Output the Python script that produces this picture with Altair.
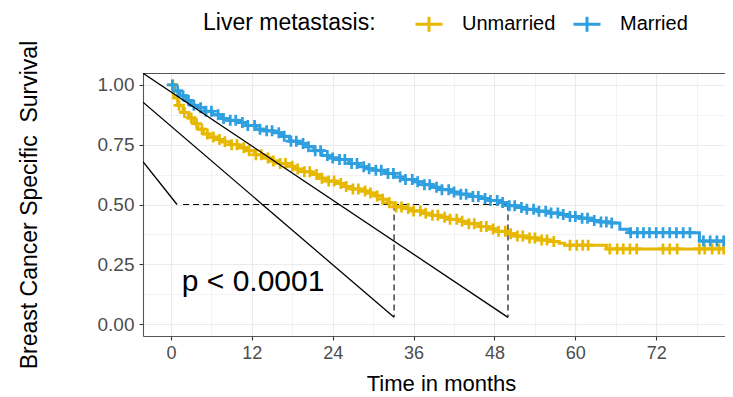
import altair as alt
import numpy as np
import pandas as pd

FONT = "Liberation Sans"

groups = ["Unmarried", "Married"]
colors = ["#E7B800", "#2E9FDF"]

# Kaplan-Meier steps (months, survival after the step)
married_t = [0, 0.5, 1.3, 2.2, 3.0, 4.0, 5.0, 6.2, 7.5, 8.6, 10.0, 11.2, 12.6, 13.8,
             15.2, 16.4, 17.6, 18.8, 20.0, 21.2, 22.4, 23.6, 25.0, 26.4, 27.8, 29.0,
             30.4, 31.8, 33.2, 34.6, 36.0, 37.4, 38.8, 40.2, 41.6, 43.0, 44.4, 45.8,
             47.2, 48.6, 50.0, 51.4, 52.8, 54.4, 56.0, 57.6, 59.0, 60.6, 62.2, 63.6,
             65.0, 66.6, 68.0, 78.4, 86.0]
married_s = [1.0, 0.975, 0.955, 0.935, 0.915, 0.905, 0.89, 0.875, 0.86, 0.852, 0.843,
             0.83, 0.815, 0.808, 0.80, 0.785, 0.765, 0.755, 0.742, 0.725, 0.705, 0.695,
             0.688, 0.672, 0.658, 0.650, 0.643, 0.630, 0.615, 0.605, 0.595, 0.583,
             0.572, 0.562, 0.552, 0.543, 0.533, 0.525, 0.517, 0.508, 0.495, 0.487,
             0.480, 0.472, 0.464, 0.458, 0.450, 0.443, 0.433, 0.427, 0.423, 0.396,
             0.382, 0.347, 0.347]

unmarried_t = [0, 0.4, 1.0, 1.8, 2.6, 3.4, 4.0, 4.8, 5.6, 6.6, 7.6, 8.8, 10.0, 11.2,
               12.4, 13.6, 14.8, 16.0, 17.2, 18.4, 19.6, 20.8, 22.0, 23.2, 24.4, 25.6,
               26.8, 28.0, 29.2, 30.4, 31.4, 32.2, 33.1, 34.4, 35.8, 37.2, 38.6, 40.0,
               41.4, 42.8, 44.2, 45.6, 47.0, 48.4, 49.8, 51.2, 52.8, 54.4, 56.0, 57.6,
               58.4, 64.6, 86.0]
unmarried_s = [1.0, 0.945, 0.915, 0.885, 0.862, 0.838, 0.815, 0.795, 0.782, 0.772,
               0.762, 0.750, 0.737, 0.725, 0.708, 0.695, 0.682, 0.672, 0.660, 0.648,
               0.637, 0.625, 0.610, 0.598, 0.588, 0.575, 0.565, 0.556, 0.548, 0.536,
               0.522, 0.507, 0.490, 0.483, 0.473, 0.463, 0.455, 0.447, 0.438, 0.430,
               0.420, 0.408, 0.398, 0.388, 0.378, 0.368, 0.360, 0.352, 0.345, 0.338,
               0.330, 0.314, 0.314]

# censoring times (months)
married_cens = [0.2, 1.0, 1.8, 2.6, 3.4, 4.4, 5.2, 6.0, 7.0, 7.8, 8.8, 9.6, 10.6, 11.4,
                12.4, 13.2, 14.2, 15.0, 16.0, 16.8, 17.8, 18.6, 19.6, 20.4, 21.4, 22.2,
                23.2, 24.0, 25.0, 25.8, 26.8, 27.6, 28.6, 29.4, 30.4, 31.2, 32.2, 33.0,
                34.0, 34.8, 35.8, 36.6, 37.6, 38.4, 39.4, 40.2, 41.2, 42.0, 43.0, 43.8,
                44.8, 45.6, 46.6, 47.4, 48.4, 49.2, 50.2, 51.0, 52.0, 52.8, 53.8, 54.6,
                55.6, 56.4, 57.4, 58.2, 59.2, 60.0, 61.0, 61.8, 62.8, 63.8, 64.6, 65.4,
                68.2, 69.2, 70.1, 71.0, 72.0, 73.0, 74.0, 75.0, 76.0, 77.0, 79.0, 80.0,
                81.0, 82.0]
unmarried_cens = [0.3, 1.2, 2.0, 3.0, 3.8, 4.6, 5.4, 6.3, 7.2, 8.0, 9.0, 9.8, 10.8, 11.6,
                  12.6, 13.4, 14.4, 15.2, 16.2, 17.0, 18.0, 18.8, 19.8, 20.6, 21.6, 22.4,
                  23.4, 24.2, 25.2, 26.0, 27.0, 27.8, 28.8, 29.6, 30.6, 31.4, 32.4, 33.4,
                  34.2, 35.2, 36.0, 37.0, 37.8, 38.8, 39.6, 40.6, 41.4, 42.4, 43.2, 44.2,
                  45.0, 46.0, 46.8, 47.8, 48.6, 49.6, 50.4, 51.4, 52.2, 53.2, 54.0, 55.0,
                  55.8, 56.8, 59.2, 60.2, 61.1, 61.9, 65.1, 66.2, 67.1, 68.1, 69.1, 73.0,
                  74.0, 75.1, 78.4, 79.2, 80.3, 81.3, 82.0]

# median survival annotation
median_months = [33.1, 50.0]
median_level = 0.5
median_floor = 0.028
median_h_start = 1.8

# solid annotation segments (as drawn in the original)
diag_t0 = [-4.15, -4.15, -4.15]
diag_s0 = [1.049, 0.928, 0.679]
diag_t1 = [50.0, 33.1, 0.9]
diag_s1 = [0.028, 0.028, 0.5]

pval_label = "p < 0.0001"
pval_t = 1.6
pval_s = 0.139

x_ticks = [0, 6, 12, 18, 24, 30, 36, 42, 48, 54, 60, 66, 72, 78]
y_ticks = [0, 0.125, 0.25, 0.375, 0.5, 0.625, 0.75, 0.875, 1.0]
x_domain = [-4.15, 82.2]
y_domain = [-0.05, 1.05]

# ---------------- tables ----------------
curves = pd.concat([
    pd.DataFrame({"group": "Unmarried", "t": unmarried_t, "s": unmarried_s, "o": range(len(unmarried_t))}),
    pd.DataFrame({"group": "Married", "t": married_t, "s": married_s, "o": range(len(married_t))}),
])


def step_at(times, survs, q):
    idx = np.searchsorted(np.array(times), np.array(q), side="right") - 1
    return [survs[i] for i in idx]


cens = pd.concat([
    pd.DataFrame({"group": "Unmarried", "t": unmarried_cens,
                  "s": step_at(unmarried_t, unmarried_s, unmarried_cens)}),
    pd.DataFrame({"group": "Married", "t": married_cens,
                  "s": step_at(married_t, married_s, married_cens)}),
])

dashed = pd.DataFrame({
    "t": [median_h_start] + median_months,
    "t1": [max(median_months)] + median_months,
    "s": [median_level, median_level, median_level],
    "s1": [median_level, median_floor, median_floor],
})

diag = pd.DataFrame({"t": diag_t0, "t1": diag_t1, "s": diag_s0, "s1": diag_s1})
ptxt = pd.DataFrame({"t": [pval_t], "s": [pval_s], "label": [pval_label]})

xscale = alt.Scale(domain=x_domain, nice=False, zero=False)
yscale = alt.Scale(domain=y_domain, nice=False, zero=False)
cscale = alt.Scale(domain=groups, range=colors)

x_axis = alt.Axis(
    values=x_ticks, title="Time in months",
    labelExpr="datum.value % 12 === 0 ? datum.value : ''",
    tickColor=alt.expr("datum.value % 12 === 0 ? '#333333' : 'transparent'"),
    gridWidth=alt.expr("datum.value % 12 === 0 ? 1.1 : 0.6"),
    gridColor="#EBEBEB", tickSize=4, tickWidth=1.1, labelPadding=4,
    labelFont=FONT, labelFontSize=18, labelColor="#4D4D4D",
    titleFont=FONT, titleFontSize=22, titleFontWeight="normal", titleColor="black",
    titleBaseline="alphabetic", titleY=54, titleX=298,
    domainColor="#555555", domainWidth=1.1,
)
y_axis = alt.Axis(
    values=y_ticks, title="Breast Cancer Specific\u00a0 Survival",
    labelExpr="(datum.value * 4) % 1 === 0 ? format(datum.value, '.2f') : ''",
    tickColor=alt.expr("(datum.value * 4) % 1 === 0 ? '#333333' : 'transparent'"),
    gridWidth=alt.expr("(datum.value * 4) % 1 === 0 ? 1.1 : 0.6"),
    gridColor="#EBEBEB", tickSize=4, tickWidth=1.1, labelPadding=5,
    labelFont=FONT, labelFontSize=19, labelColor="#4D4D4D",
    titleFont=FONT, titleFontSize=23, titleFontWeight="normal", titleColor="black",
    titleBaseline="alphabetic", titleX=-107, titleAngle=270,
    domainColor="#555555", domainWidth=1.1,
)

legend = alt.Legend(
    title="Liver metastasis:", orient="none", legendX=60, legendY=-64,
    direction="horizontal", titleOrient="left",
    titleFont=FONT, titleFontSize=23, titleFontWeight="normal", titleColor="black",
    titlePadding=38, labelFont=FONT, labelFontSize=20, labelColor="black",
    symbolType="M-1,0H1M0,-0.55V0.55", symbolSize=729, symbolStrokeWidth=3,
    symbolFillColor="transparent", labelOffset=18, columnPadding=11,
)

Y = alt.Y("s:Q", scale=yscale, axis=y_axis)

dash_layer = alt.Chart(dashed).mark_rule(
    color="black", strokeWidth=1.1, strokeDash=[6, 4], clip=True
).encode(
    x=alt.X("t:Q", scale=xscale, axis=x_axis),
    x2="t1", y=Y, y2="s1",
)

line_layer = alt.Chart(curves).mark_line(
    interpolate="step-after", strokeWidth=3, clip=True
).encode(
    x=alt.X("t:Q", scale=xscale, axis=None),
    y=Y,
    color=alt.Color("group:N", scale=cscale, legend=legend, sort=groups),
    order="o:Q",
)

cens_layer = alt.Chart(cens).mark_point(
    shape="M-1,0H1M0,-1V1", size=121, strokeWidth=2.7, filled=False, opacity=1, clip=True
).encode(
    x=alt.X("t:Q", scale=xscale, axis=None),
    y=Y,
    color=alt.Color("group:N", scale=cscale, legend=legend, sort=groups),
)

diag_layer = alt.Chart(diag).mark_rule(color="black", strokeWidth=1.3, clip=True).encode(
    x=alt.X("t:Q", scale=xscale,
            axis=alt.Axis(orient="top", labels=False, ticks=False, grid=False, title=None,
                          domainColor="#555555", domainWidth=1.1)),
    x2="t1", y=Y, y2="s1",
)

text_layer = alt.Chart(ptxt).mark_text(
    align="left", baseline="alphabetic", font=FONT, fontSize=30, color="black"
).encode(
    x=alt.X("t:Q", scale=xscale, axis=None),
    y=Y,
    text="label:N",
)

chart = alt.layer(
    dash_layer, line_layer, cens_layer, diag_layer, text_layer
).resolve_axis(x="independent").properties(
    width=582, height=263,
    autosize=alt.AutoSizeParams(type="none"),
    padding={"left": 135, "top": 65, "right": 0, "bottom": 59},
).configure_view(stroke=None).configure(background="white")

chart.save("out.html", embed_options={"renderer": "svg", "actions": False})
